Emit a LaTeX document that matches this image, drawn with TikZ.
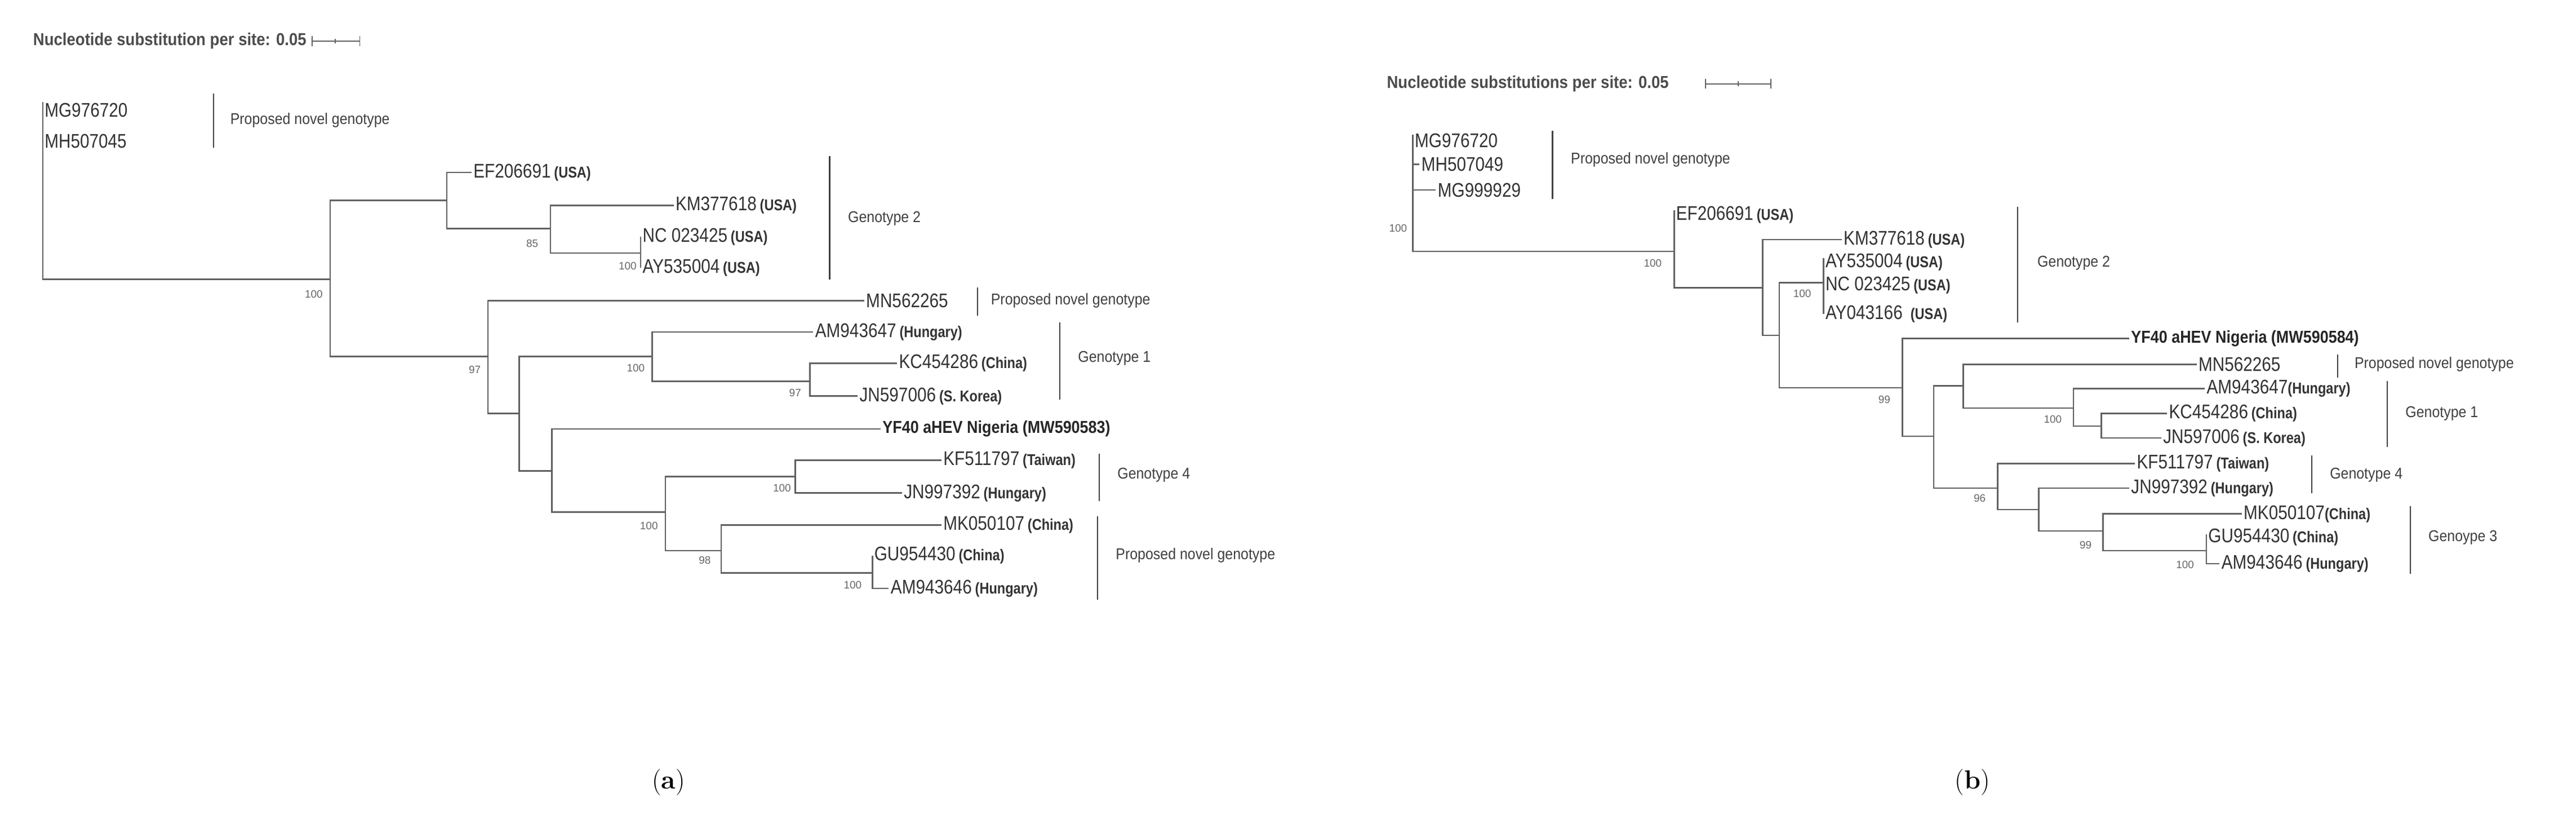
\documentclass[tikz,border=0pt]{standalone}
\usepackage{fontspec}
\setmainfont{Liberation Sans}
\newfontfamily\capfont{Latin Modern Roman}
\begin{document}
\begin{tikzpicture}[x=1pt,y=-1pt,
  br/.style={draw=black!62,line width=0.9pt},
  bk/.style={draw=black!75,line width=0.7pt},
  leaf/.style={anchor=west,inner sep=1pt,text=black!80,font=\fontsize{12}{13}\selectfont\addfontfeature{FakeStretch=0.85}},
  yf/.style={anchor=west,inner sep=1pt,text=black!85,font=\fontsize{10.5}{12}\selectfont\bfseries\addfontfeature{FakeStretch=0.88}},
  clade/.style={anchor=west,inner sep=1pt,text=black!75,font=\fontsize{9.5}{11}\selectfont\addfontfeature{FakeStretch=0.9}},
  boot/.style={inner sep=0pt,text=black!60,font=\fontsize{6.5}{7}\selectfont},
  sc/.style={anchor=west,inner sep=0pt,text=black!70,font=\fontsize{10.5}{12}\selectfont\bfseries\addfontfeature{FakeStretch=0.9}},
  capt/.style={inner sep=0pt,font=\capfont\fontsize{16}{18}\selectfont}]
\newcommand{\ct}[1]{\,{\fontsize{9.5}{11}\selectfont\bfseries(#1)}}
\useasboundingbox[fill=white] (0,0) rectangle (1568,503.5);
% ================= panel (a) =================
\node[sc] (sca) at (20,25) {Nucleotide substitution per site: 0.05};
\draw[br,line width=0.6pt] (190,25) -- (219,25) (190,22) -- (190,28) (219,22) -- (219,28) (204,23.5)--(204,26.5);
\draw[br] (26,62) -- (26,170) -- (201,170);
\node[leaf] (a1) at (26,67) {MG976720};
\node[leaf] (a2) at (26,86) {MH507045};
\draw[bk] (130,57) -- (130,90);
\node[clade] (ca1) at (139,73) {Proposed novel genotype};
\draw[br] (272,122) -- (201,122) -- (201,217) -- (297,217);
\draw[br] (287,105) -- (272,105) -- (272,139) -- (335,139);
\draw[br] (410,125) -- (335,125) -- (335,154) -- (390,154);
\draw[br] (390,144) -- (390,163);
\node[leaf] (a3) at (287,105) {EF206691\ct{USA}};
\node[leaf] (a4) at (410,125) {KM377618\ct{USA}};
\node[leaf] (a5) at (390,144) {NC 023425\ct{USA}};
\node[leaf] (a6) at (390,163) {AY535004\ct{USA}};
\node[boot] at (191,179) {100};
\node[boot] at (324,148) {85};
\node[boot] at (382,162) {100};
\draw[bk] (505,95) -- (505,170);
\node[clade] (ca2) at (515,133) {Genotype 2};
\draw[br] (526,183) -- (297,183) -- (297,251.5) -- (316,251.5);
\node[leaf] (a7) at (526,183) {MN562265};
\draw[bk] (595,175) -- (595,192);
\node[clade] (ca3) at (602,183) {Proposed novel genotype};
\node[boot] at (289,225) {97};
\draw[br] (397,217) -- (316,217) -- (316,286.5) -- (336,286.5);
\draw[br] (495,202) -- (397,202) -- (397,232) -- (493,232);
\draw[br] (546,221) -- (493,221) -- (493,241) -- (522,241);
\node[leaf] (a8) at (495,202) {AM943647\ct{Hungary}};
\node[leaf] (a9) at (546,221) {KC454286\ct{China}};
\node[leaf] (a10) at (522,241) {JN597006\ct{S. Korea}};
\node[boot] at (387,224) {100};
\node[boot] at (484,239) {97};
\draw[bk] (645,196) -- (645,243);
\node[clade] (ca4) at (655,218) {Genotype 1};
\draw[br] (536,261) -- (336,261) -- (336,311.5) -- (405,311.5);
\node[yf] (a11) at (536,261) {YF40 aHEV Nigeria (MW590583)};
\draw[br] (484,290) -- (405,290) -- (405,335) -- (439,335);
\draw[br] (573,280) -- (484,280) -- (484,300) -- (549,300);
\node[leaf] (a12) at (573,280) {KF511797\ct{Taiwan}};
\node[leaf] (a13) at (549,300) {JN997392\ct{Hungary}};
\node[boot] at (476,297) {100};
\node[boot] at (395,320) {100};
\draw[bk] (669,276) -- (669,305);
\node[clade] (ca5) at (679,289) {Genotype 4};
\draw[br] (573,319.5) -- (439,319.5) -- (439,348.7) -- (531,348.7);
\draw[br] (531,338) -- (531,358) -- (541,358);
\node[leaf] (a14) at (573,319.5) {MK050107\ct{China}};
\node[leaf] (a15) at (531,338) {GU954430\ct{China}};
\node[leaf] (a16) at (541,358) {AM943646\ct{Hungary}};
\node[boot] at (429,341) {98};
\node[boot] at (519,356) {100};
\draw[bk] (668,314) -- (668,365);
\node[clade] (ca6) at (678,338) {Proposed novel genotype};
\node[capt] (capa) at (407,476) {(\textbf{a})};
% ================= panel (b) =================
\node[sc] (scb) at (844,51) {Nucleotide substitutions per site: 0.05};
\draw[br,line width=0.6pt] (1038,51) -- (1078,51) (1038,48) -- (1038,54) (1078,48) -- (1078,54) (1058,49.5)--(1058,52.5);
\draw[br] (860,82) -- (860,153) -- (1019,153);
\draw[br] (860,100) -- (864,100);
\draw[br] (860,115.6) -- (874,115.6);
\node[leaf] (b1) at (860,85.5) {MG976720};
\node[leaf] (b2) at (864,100) {MH507049};
\node[leaf] (b3) at (874,115.6) {MG999929};
\draw[bk] (945,79.6) -- (945,121);
\node[clade] (cb1) at (955,97) {Proposed novel genotype};
\node[boot] at (851,139) {100};
\draw[br] (1019,128) -- (1019,175) -- (1073,175);
\node[leaf] (b4) at (1019,130.7) {EF206691\ct{USA}};
\node[boot] at (1006,160) {100};
\draw[br] (1121,145.8) -- (1073,145.8) -- (1073,204) -- (1083,204);
\node[leaf] (b5) at (1121,145.8) {KM377618\ct{USA}};
\draw[br] (1110,172) -- (1083,172) -- (1083,236) -- (1158,236);
\draw[br] (1110,157) -- (1110,191);
\node[leaf] (b6) at (1110,159.6) {AY535004\ct{USA}};
\node[leaf] (b7) at (1110,173.5) {NC 023425\ct{USA}};
\node[leaf] (b8) at (1110,191) {AY043166\ \ct{USA}};
\node[boot] at (1097,178.6) {100};
\draw[bk] (1228,126) -- (1228,196);
\node[clade] (cb2) at (1239,160) {Genotype 2};
\draw[br] (1296,206) -- (1158,206) -- (1158,265.5) -- (1177,265.5);
\node[yf] (b9) at (1296,206) {YF40 aHEV Nigeria (MW590584)};
\node[boot] at (1147,243) {99};
\draw[br] (1195,234.8) -- (1177,234.8) -- (1177,297) -- (1216,297);
\draw[br] (1337,221.7) -- (1195,221.7) -- (1195,248.3) -- (1262,248.3);
\node[leaf] (b10) at (1337,221.7) {MN562265};
\draw[bk] (1423,215.7) -- (1423,229.8);
\node[clade] (cb3) at (1432,221.7) {Proposed novel genotype};
\draw[br] (1342,236.4) -- (1262,236.4) -- (1262,259.3) -- (1279,259.3);
\draw[br] (1319,251.5) -- (1279,251.5) -- (1279,266.5) -- (1315.5,266.5);
\node[leaf] (b11) at (1342,236.4) {AM943647{\fontsize{9.5}{11}\selectfont\bfseries(Hungary)}};
\node[leaf] (b12) at (1319,251.5) {KC454286\ct{China}};
\node[leaf] (b13) at (1315.5,266.5) {JN597006\ct{S. Korea}};
\node[boot] at (1249.5,255) {100};
\draw[bk] (1453,231.8) -- (1453,272);
\node[clade] (cb4) at (1463,251.6) {Genotype 1};
\draw[br] (1299.5,282) -- (1216,282) -- (1216,310) -- (1241,310);
\draw[br] (1296,297) -- (1241,297) -- (1241,323) -- (1280,323);
\node[leaf] (b14) at (1299.5,282) {KF511797\ct{Taiwan}};
\node[leaf] (b15) at (1296,297) {JN997392\ct{Hungary}};
\node[boot] at (1205,303) {96};
\draw[bk] (1407,277) -- (1407,300);
\node[clade] (cb5) at (1417,289) {Genotype 4};
\draw[br] (1364.5,312.7) -- (1280,312.7) -- (1280,335) -- (1343,335);
\draw[br] (1343,325) -- (1343,343) -- (1351,343);
\node[leaf] (b16) at (1364.5,312.7) {MK050107{\fontsize{9.5}{11}\selectfont\bfseries(China)}};
\node[leaf] (b17) at (1343,327) {GU954430\ct{China}};
\node[leaf] (b18) at (1351,343) {AM943646\ct{Hungary}};
\node[boot] at (1269.5,331.6) {99};
\node[boot] at (1330,343.6) {100};
\draw[bk] (1467,308) -- (1467,349);
\node[clade] (cb6) at (1477,327) {Genoype 3};
\node[capt] (capb) at (1200.6,476) {(\textbf{b})};
\end{tikzpicture}
\end{document}
